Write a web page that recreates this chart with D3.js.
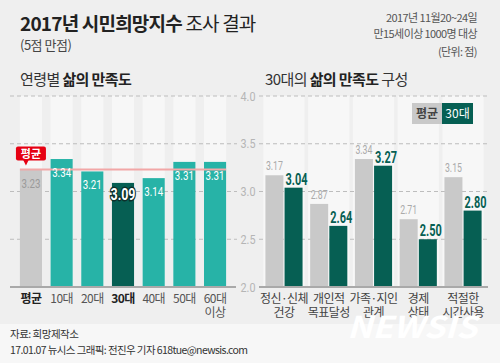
<!DOCTYPE html>
<html>
<head>
<meta charset="utf-8">
<script src="https://cdn.jsdelivr.net/npm/d3@7/dist/d3.min.js"></script>
<style>
  html, body { margin: 0; padding: 0; background: #efefef; }
  svg { display: block; }
  text { font-family: "Noto Sans CJK KR", "Noto Sans", sans-serif; }
  .num { font-family: "Liberation Sans Narrow", "Roboto", "Liberation Sans", sans-serif; }
</style>
</head>
<body>
<div class="canvas"></div>
<script>
// data
const ageGroups = ['평균', '10대', '20대', '30대', '40대', '50대', '60대 이상']
const ageScores = [3.23, 3.34, 3.21, 3.09, 3.14, 3.31, 3.31]
const components = ['정신·신체 건강', '개인적 목표달성', '가족·지인 관계', '경제 상태', '적절한 시간사용']
const avgScores = [3.17, 2.87, 3.34, 2.71, 3.15]
const thirtiesScores = [3.04, 2.64, 3.27, 2.50, 2.80]
const yTicks = [2.0, 2.5, 3.0, 3.5, 4.0]
const overallAvg = 3.23

const dims = { width: 500, height: 363 }
const colors = {
  bg: '#efefef', column: '#f7f7f7', teal: '#27b3a7', dark: '#065f53',
  gray: '#c9c9c9', grid: '#bdbdbd', red: '#e60012', avgLine: '#f2a7a7'
}

const svg = d3.select('.canvas')
  .append('svg')
  .attr('width', dims.width)
  .attr('height', dims.height)

svg.append('rect').attr('width', dims.width).attr('height', dims.height).attr('fill', colors.bg)
// footer band
svg.append('rect').attr('y', 324).attr('width', dims.width).attr('height', 39).attr('fill', '#f7f7f7')

//? HEADER
const title = svg.append('text').attr('x', 20).attr('y', 31).attr('font-size', 19).attr('fill', '#222').attr('letter-spacing', -0.8)
title.append('tspan').attr('font-weight', 'bold').text('2017년 시민희망지수')
title.append('tspan').text(' 조사 결과')
svg.append('text').attr('x', 20).attr('y', 50).attr('font-size', 13).attr('fill', '#444').attr('letter-spacing', -0.5).text('(5점 만점)')

const info = ['2017년 11월20~24일', '만15세이상 1000명 대상', '(단위: 점)']
svg.selectAll('.info').data(info).enter().append('text')
  .attr('class', 'info')
  .attr('x', 477).attr('y', (d, i) => [22, 38, 56][i])
  .attr('text-anchor', 'end').attr('font-size', 11).attr('fill', '#555').attr('letter-spacing', -0.6)
  .text(d => d)

//? SCALES
const y = d3.scaleLinear().domain([2, 4]).range([287, 96])

const xAge = d3.scaleBand().domain(ageGroups).range([15.6, 230.4]).paddingInner(0.28).paddingOuter(0.14)
const xComp = d3.scaleBand().domain(components).range([261.6, 485.4]).paddingInner(0.17).paddingOuter(0.085)
const xSeries = d3.scaleBand().domain(['avg', 'thirties']).range([0, xComp.bandwidth()]).paddingInner(0.06)

//? SECTION TITLES
const t1 = svg.append('text').attr('x', 20).attr('y', 85).attr('font-size', 15).attr('fill', '#333').attr('letter-spacing', -0.6)
t1.append('tspan').text('연령별 ')
t1.append('tspan').attr('font-weight', 'bold').attr('fill', '#222').text('삶의 만족도')
const t2 = svg.append('text').attr('x', 265).attr('y', 85).attr('font-size', 15).attr('fill', '#333').attr('letter-spacing', -0.6)
t2.append('tspan').text('30대의 ')
t2.append('tspan').attr('font-weight', 'bold').attr('fill', '#222').text('삶의 만족도')
t2.append('tspan').text(' 구성')

//? LIGHT COLUMNS
svg.selectAll('.col-age').data(ageGroups).enter().append('rect')
  .attr('x', d => xAge(d)).attr('y', y(4))
  .attr('width', xAge.bandwidth()).attr('height', y(2) - y(4))
  .attr('fill', colors.column)
svg.selectAll('.col-comp').data(components).enter().append('rect')
  .attr('x', d => xComp(d) - 2).attr('y', y(4))
  .attr('width', xComp.bandwidth() + 4).attr('height', y(2) - y(4))
  .attr('fill', colors.column)

//? GRID + AXIS LABELS (shared, labels sit between the two panels)
const grid = svg.append('g')
yTicks.slice(1).forEach(v => {
  grid.append('line').attr('x1', 10).attr('x2', 237).attr('y1', y(v)).attr('y2', y(v))
    .attr('stroke', colors.grid).attr('stroke-dasharray', '4,3')
  grid.append('line').attr('x1', 259).attr('x2', 488).attr('y1', y(v)).attr('y2', y(v))
    .attr('stroke', colors.grid).attr('stroke-dasharray', '4,3')
})
grid.selectAll('text').data(yTicks).enter().append('text')
  .attr('class', 'num')
  .attr('x', 248).attr('y', d => y(d) + 4.5)
  .attr('text-anchor', 'middle').attr('font-size', 12).attr('fill', '#b5b5b5')
  .attr('textLength', 15).attr('lengthAdjust', 'spacingAndGlyphs')
  .text(d => d.toFixed(1))

//? LEFT BARS
const ageData = ageGroups.map((g, i) => ({ group: g, value: ageScores[i], i }))
const isHi = d => d.group === '30대'
const barFill = d => d.i === 0 ? colors.gray : (isHi(d) ? colors.dark : colors.teal)
svg.selectAll('.bar-age').data(ageData).enter().append('rect')
  .attr('x', d => xAge(d.group)).attr('y', d => y(d.value))
  .attr('width', xAge.bandwidth()).attr('height', d => y(2) - y(d.value))
  .attr('fill', barFill)

// average line
svg.append('line')
  .attr('x1', xAge(ageGroups[0])).attr('x2', xAge(ageGroups[6]) + xAge.bandwidth())
  .attr('y1', y(overallAvg)).attr('y2', y(overallAvg))
  .attr('stroke', colors.avgLine).attr('stroke-width', 2)

// value labels
svg.selectAll('.val-age').data(ageData).enter().append('text')
  .attr('class', 'num')
  .attr('x', d => xAge(d.group) + xAge.bandwidth() / 2)
  .attr('y', d => isHi(d) ? y(d.value) + 17 : y(d.value) + 18)
  .attr('text-anchor', 'middle')
  .attr('font-size', d => isHi(d) ? 17 : 13)
  .attr('font-weight', d => isHi(d) ? 'bold' : 'normal')
  .attr('fill', d => d.i === 0 ? '#9a9a9a' : '#fff')
  .attr('stroke', d => isHi(d) ? '#0d2f2a' : 'none')
  .attr('stroke-width', 3)
  .attr('paint-order', 'stroke')
  .attr('textLength', d => isHi(d) ? 25 : 19)
  .attr('lengthAdjust', 'spacingAndGlyphs')
  .text(d => d.value.toFixed(2))

// 평균 tag
const tagX = xAge(ageGroups[0]) + xAge.bandwidth() / 2
const tag = svg.append('g').attr('transform', `translate(${tagX}, ${y(overallAvg)})`)
tag.append('rect').attr('x', -15).attr('y', -23).attr('width', 30).attr('height', 14).attr('rx', 2).attr('fill', colors.red)
tag.append('path').attr('d', 'M-8,-10 L-2,-10 L-5,-4 Z').attr('fill', colors.red)
tag.append('text').attr('x', 0).attr('y', -11.5).attr('text-anchor', 'middle')
  .attr('font-size', 11).attr('font-weight', 'bold').attr('fill', '#fff').text('평균')

//? RIGHT BARS
const compData = components.flatMap((c, i) => [
  { comp: c, key: 'avg', value: avgScores[i] },
  { comp: c, key: 'thirties', value: thirtiesScores[i] }
])
svg.selectAll('.bar-comp').data(compData).enter().append('rect')
  .attr('x', d => xComp(d.comp) + xSeries(d.key)).attr('y', d => y(d.value))
  .attr('width', xSeries.bandwidth()).attr('height', d => y(2) - y(d.value))
  .attr('fill', d => d.key === 'avg' ? colors.gray : colors.dark)
svg.selectAll('.val-comp').data(compData).enter().append('text')
  .attr('class', 'num')
  .attr('x', d => xComp(d.comp) + xSeries(d.key) + xSeries.bandwidth() / 2 + (d.key === 'thirties' ? 3 : 0))
  .attr('y', d => y(d.value) - (d.key === 'avg' ? 5 : 3))
  .attr('text-anchor', 'middle')
  .attr('font-size', d => d.key === 'avg' ? 12 : 16)
  .attr('font-weight', d => d.key === 'avg' ? 'normal' : 'bold')
  .attr('fill', d => d.key === 'avg' ? '#aaaaaa' : colors.dark)
  .attr('textLength', d => d.key === 'avg' ? 17 : 22)
  .attr('lengthAdjust', 'spacingAndGlyphs')
  .text(d => d.value.toFixed(2))

// legend
const legend = svg.append('g').attr('transform', 'translate(412, 103)')
legend.append('rect').attr('width', 30).attr('height', 21).attr('fill', colors.gray)
legend.append('rect').attr('x', 30).attr('width', 31).attr('height', 21).attr('fill', colors.dark)
legend.append('text').attr('x', 15).attr('y', 15).attr('text-anchor', 'middle').attr('font-size', 12).attr('fill', '#444').attr('font-weight', 'bold').text('평균')
legend.append('text').attr('x', 45.5).attr('y', 15).attr('text-anchor', 'middle').attr('font-size', 12).attr('fill', '#fff').text('30대')

//? BASELINES
svg.append('line').attr('x1', 10).attr('x2', 236).attr('y1', y(2)).attr('y2', y(2)).attr('stroke', '#a9a9a9').attr('stroke-width', 2)
svg.append('line').attr('x1', 259).attr('x2', 488).attr('y1', y(2)).attr('y2', y(2)).attr('stroke', '#a9a9a9').attr('stroke-width', 2)

//? X LABELS
const ageLabels = svg.selectAll('.lab-age').data(ageGroups).enter().append('text')
  .attr('x', d => xAge(d) + xAge.bandwidth() / 2)
  .attr('text-anchor', 'middle').attr('font-size', 12).attr('letter-spacing', -0.6)
  .attr('font-weight', (d, i) => (i === 0 || d === '30대') ? 'bold' : 'normal')
  .attr('fill', (d, i) => (i === 0 || d === '30대') ? '#222' : '#555')
ageLabels.selectAll('tspan').data(d => d.split(' ')).enter().append('tspan')
  .attr('x', function () { return d3.select(this.parentNode).attr('x') })
  .attr('y', (d, i) => 303 + i * 14)
  .text(d => d)

const compLabels = svg.selectAll('.lab-comp').data(components).enter().append('text')
  .attr('x', d => xComp(d) + xComp.bandwidth() / 2)
  .attr('text-anchor', 'middle').attr('font-size', 12).attr('letter-spacing', -0.6).attr('fill', '#444')
compLabels.selectAll('tspan').data(d => d.split(' ')).enter().append('tspan')
  .attr('x', function () { return d3.select(this.parentNode).attr('x') })
  .attr('y', (d, i) => 303 + i * 14)
  .text(d => d)

//? FOOTER
svg.append('text').attr('x', 10).attr('y', 338).attr('font-size', 10.5).attr('fill', '#333').attr('letter-spacing', -0.5).text('자료: 희망제작소')
svg.append('text').attr('x', 10).attr('y', 354).attr('font-size', 10.5).attr('fill', '#333').attr('letter-spacing', -0.6).text('17.01.07 뉴시스 그래픽: 전진우 기자 618tue@newsis.com')
svg.append('text').attr('x', 347).attr('y', 338)
  .attr('font-family', 'Liberation Sans, sans-serif').attr('font-size', 30).attr('font-weight', 'bold')
  .attr('font-style', 'italic').attr('fill', '#ffffff')
  .attr('textLength', 130).attr('lengthAdjust', 'spacingAndGlyphs').text('NEWSIS')
</script>
</body>
</html>
